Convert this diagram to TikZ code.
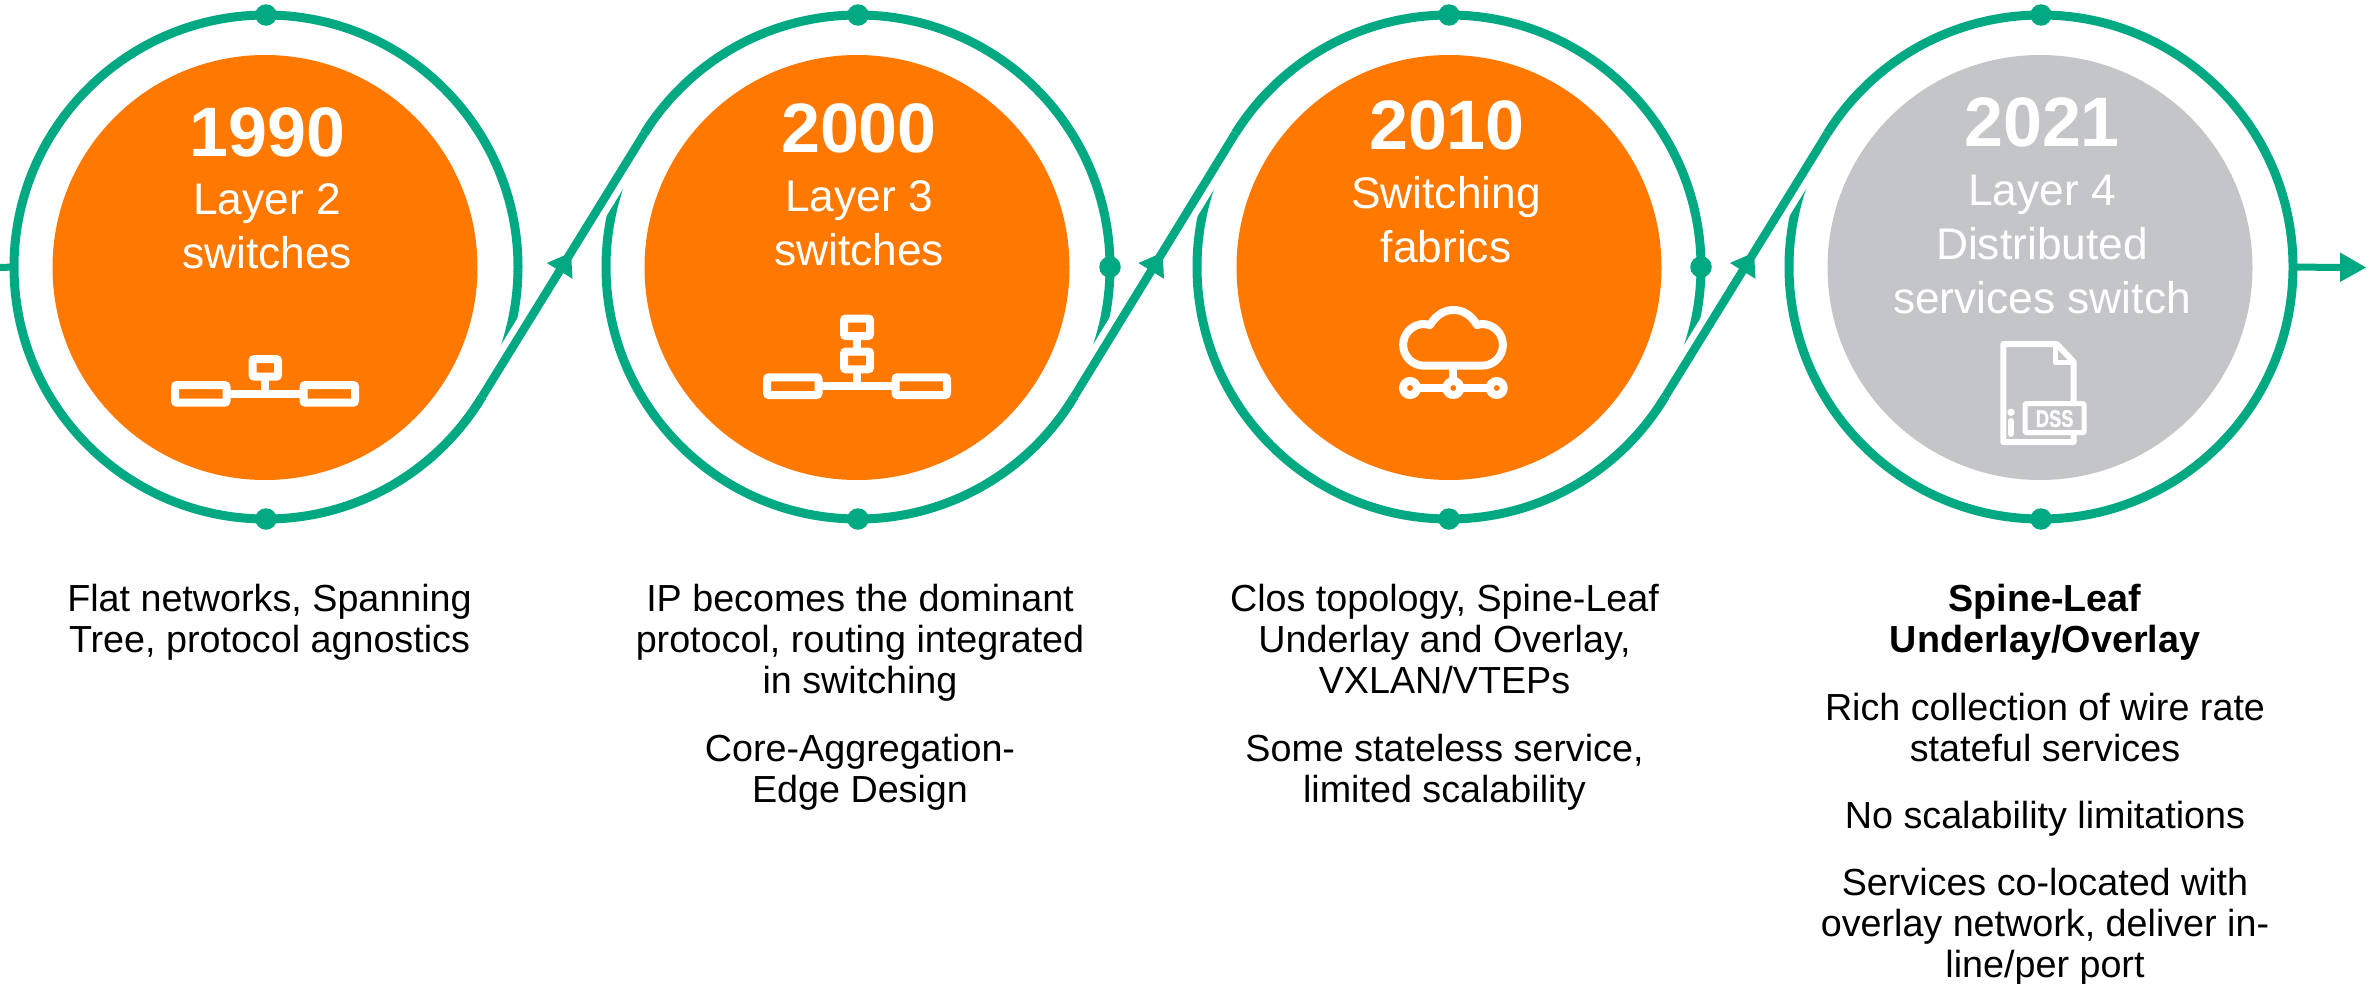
\documentclass[tikz,border=0pt]{standalone}
\usepackage{fontspec}
\usepackage{graphicx}
\setmainfont{Liberation Sans}
\newfontfamily\dssfont{Liberation Sans}[BoldFeatures={FakeBold=1.5}]
\definecolor{hpegreen}{HTML}{01A982}
\definecolor{hpeorange}{HTML}{FF7900}
\definecolor{hpegray}{HTML}{C4C5C9}
\newcommand{\yearfont}{\fontsize{70}{70}\selectfont\bfseries}
\newcommand{\subfont}{\fontsize{44.3}{54}\selectfont}
\newcommand{\bodyfont}{\fontsize{37.7}{41}\selectfont}
% zero-width rule: fixes the first baseline 40pt under the node's north edge
\newcommand{\fl}{\vrule height 40pt width 0pt\relax}
\tikzset{
  ringnode/.style={circle,draw=hpegreen,line width=9pt,inner sep=0pt,outer sep=0pt,minimum size=504pt},
  disk/.style={circle,inner sep=0pt,outer sep=0pt,minimum size=425pt},
  dotnode/.style={circle,fill=hpegreen,inner sep=0pt,outer sep=0pt,minimum size=21.5pt},
  halo/.style={draw=white,line width=22pt},
  link/.style={draw=hpegreen,line width=8.5pt},
  tipfill/.style={fill=hpegreen},
  yeartext/.style={text=white,font=\yearfont,anchor=base,inner sep=0pt},
  subtext/.style={text=white,font=\subfont,anchor=north,align=center,inner sep=0pt},
  bodytext/.style={text=black,font=\bodyfont,anchor=north,align=center,inner sep=0pt},
  iconbox/.style={draw=white,line width=8pt,rounded corners=2pt},
  iconline/.style={draw=white,line width=8pt},
}
\begin{document}
\begin{tikzpicture}[x=1pt,y=-1pt]
\useasboundingbox (0,0) rectangle (2379,983);
% rings
\node[ringnode] (r1) at (266,267) {};
\node[ringnode] (r2) at (858,267) {};
\node[ringnode] (r3) at (1449,267) {};
\node[ringnode] (r4) at (2041,267) {};
% discs
\node[disk,fill=hpeorange] (d1) at (265,267.5) {};
\node[disk,fill=hpeorange] (d2) at (857,267.5) {};
\node[disk,fill=hpeorange] (d3) at (1449,267.5) {};
\node[disk,fill=hpegray] (d4) at (2040,267.5) {};
% S-links
\draw[halo] (r1.-31.7) -- (r2.148.3);
\draw[halo] (r2.-31.7) -- (r3.148.3);
\draw[halo] (r3.-31.7) -- (r4.148.3);
\draw[link] (r1.-31.7) -- (r2.148.3);
\draw[link] (r2.-31.7) -- (r3.148.3);
\draw[link] (r3.-31.7) -- (r4.148.3);
% mid arrowheads
\foreach \mx in {562,1153.5,1745}{
  \fill[tipfill] (\mx-2.3+12.8,267+3.9+7.9) -- (\mx-2.3-12.8,267+3.9-7.9) -- (\mx+9,267-14.5) -- cycle;
}
% entry and exit
\coordinate (inleft) at (0,267.5);
\coordinate (outtip) at (2366,267.5);
\coordinate (outbase) at (2340,267.5);
\draw[hpegreen,line width=7pt] (inleft) -- (r1.west);
\draw[hpegreen,line width=7pt] (r4.east) -- (outbase);
\fill[hpegreen] (2340,252.5) -- (outtip) -- (2340,282) -- cycle;
% dots
\foreach \n in {1,2,3,4}{
  \node[dotnode] (t\n) at (r\n.north) {};
  \node[dotnode] (b\n) at (r\n.south) {};
}
\node[dotnode] (e2) at (r2.east) {};
\node[dotnode] (e3) at (r3.east) {};
% disc text
\node[yeartext] (y1) at (267.5,156) {1990};
\node[subtext] (s1) at (267,174) {\fl Layer 2\\switches};
\node[yeartext] (y2) at (859,152.3) {2000};
\node[subtext] (s2) at (859,171.7) {\fl Layer 3\\switches};
\node[yeartext] (y3) at (1447,149.3) {2010};
\node[subtext] (s3) at (1446,168.3) {\fl Switching\\fabrics};
\node[yeartext] (y4) at (2042,146.7) {2021};
\node[subtext] (s4) at (2042,165) {\fl Layer 4\\Distributed\\services switch};
% icon 1
\draw[iconbox] (175,385) rectangle (226.5,402.7);
\draw[iconbox] (303.5,385) rectangle (355,402.7);
\draw[iconbox] (252.5,359) rectangle (278,376.7);
\draw[iconline] (230,393.8) -- (300,393.8);
\draw[iconline] (265,380) -- (265,393.8);
% icon 2
\draw[iconbox] (767,377.3) rectangle (818.5,395);
\draw[iconbox] (895.5,377.3) rectangle (947,395);
\draw[iconbox] (844,351.5) rectangle (870,369.3);
\draw[iconbox] (844,318.5) rectangle (870,336);
\draw[iconline] (822,386) -- (892,386);
\draw[iconline] (857,373) -- (857,386);
\draw[iconline] (857,340) -- (857,348);
% icon 3: cloud
\draw[white,line width=8pt,line join=round]
  (1424,365.7) arc[start angle=270,end angle=90,radius=20.85pt]
  -- (1430,325) .. controls (1436,315) and (1444,310) .. (1453.5,310)
  .. controls (1463,310) and (1471,315) .. (1477,325)
  -- (1482,324) arc[start angle=90,end angle=-90,radius=20.85pt] -- cycle;
\draw[iconline] (1453.3,365.7) -- (1453.3,388);
\draw[iconline] (1410,388) -- (1496.7,388);
\foreach \cx in {1410,1453.3,1496.7}{
  \draw[white,line width=8pt,fill=hpeorange] (\cx,388) circle[radius=7pt];
}
% icon 4: document
\draw[white,line width=6pt,line join=round]
  (2003.3,344) -- (2056.7,344) -- (2073.7,362) -- (2073.7,442) -- (2003.3,442) -- cycle;
\draw[white,line width=5pt,line join=round] (2055,344) -- (2055,362) -- (2073.7,362);
\draw[white,line width=5pt,fill=hpegray,rounded corners=1pt] (2025.2,403.6) rectangle (2084,432.5);
\node[text=white,inner sep=0pt,font=\dssfont\fontsize{24}{24}\selectfont\bfseries] (dss) at (2054.6,418.6) {\scalebox{0.76}[1]{DSS}};
\fill[white] (2011,412.3) circle[radius=3.7pt];
\draw[white,line width=6pt,line cap=round] (2011,421) -- (2011,434);
% body text
\node[bodytext] (c1a) at (269.5,571.7) {\fl Flat networks, Spanning\\Tree, protocol agnostics};
\node[bodytext] (c2a) at (860,571.7) {\fl IP becomes the dominant\\protocol, routing integrated\\in switching};
\node[bodytext] (c2b) at (860,721) {\fl Core-Aggregation-\\Edge Design};
\node[bodytext] (c3a) at (1444.5,571.7) {\fl Clos topology, Spine-Leaf\\Underlay and Overlay,\\VXLAN/VTEPs};
\node[bodytext] (c3b) at (1444.5,721) {\fl Some stateless service,\\limited scalability};
\node[bodytext,font=\bodyfont\bfseries] (c4a) at (2045,571.7) {\fl Spine-Leaf\\Underlay/Overlay};
\node[bodytext] (c4b) at (2045,680) {\fl Rich collection of wire rate\\stateful services};
\node[bodytext] (c4c) at (2045,788.3) {\fl No scalability limitations};
\node[bodytext] (c4d) at (2045,855) {\fl Services co-located with\\overlay network, deliver in-\\line/per port};
\end{tikzpicture}
\end{document}
